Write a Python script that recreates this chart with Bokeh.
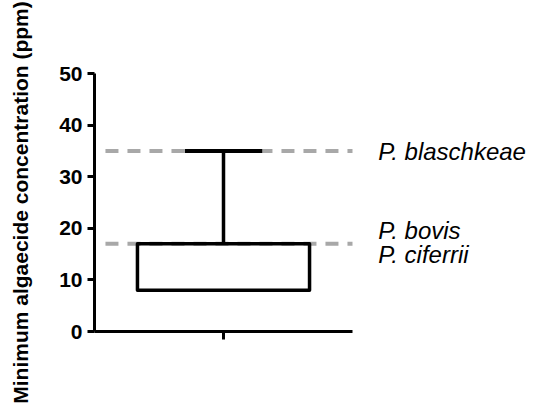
from bokeh.plotting import figure
from bokeh.models import Range1d, FixedTicker, ColumnDataSource
from bokeh.core.properties import value
from bokeh.embed import file_html
from bokeh.resources import INLINE

# ---- data ----
box_center = [1]
whisker_low = [8]
q1 = [8]
q3 = [17]
whisker_high = [35]
ref_values = [35, 17]
label_text = ["P. blaschkeae", "P. bovis", "P. ciferrii"]
label_y = [35, 17, 17]
y_ticks = [0, 10, 20, 30, 40, 50]
y_title = "Minimum algaecide concentration (ppm)"

# ---- layout ----
px_per_unit = 129.0
frame_w, frame_h = 448, 258
p = figure(frame_width=frame_w, frame_height=frame_h,
           min_border_left=94, min_border_right=0, min_border_top=73, min_border_bottom=72,
           x_range=Range1d(0, frame_w / px_per_unit), y_range=Range1d(0, 50),
           output_backend="svg", toolbar_location=None)
p.outline_line_color = None
p.grid.visible = False
p.background_fill_color = "white"

# y axis
ya = p.yaxis[0]
ya.ticker = FixedTicker(ticks=y_ticks)
ya.bounds = (0, 50)
ya.axis_line_width = 3
ya.major_tick_line_width = 3
ya.major_tick_out = 7
ya.major_tick_in = 0
ya.minor_tick_line_color = None
ya.major_label_standoff = 5
ya.major_label_text_font = "Liberation Sans"
ya.major_label_text_font_style = "bold"
ya.major_label_text_font_size = "21px"
ya.major_label_text_color = "black"
ya.axis_label = y_title
ya.axis_label_text_font = "Liberation Sans"
ya.axis_label_text_font_style = "bold"
ya.axis_label_text_font_size = "21px"
ya.axis_label_text_color = "black"
ya.axis_label_standoff = 24

# x axis
xa = p.xaxis[0]
xa.ticker = FixedTicker(ticks=box_center)
xa.bounds = (0, 2)
xa.axis_line_width = 3
xa.major_tick_line_width = 3
xa.major_tick_out = 8
xa.major_tick_in = 0
xa.minor_tick_line_color = None
xa.major_label_text_color = None

# reference dashed lines
for v in ref_values:
    p.line([0.085, 2.0], [v, v], line_color="#a8a8a8", line_width=4, line_dash="13 9")

# box
hw = 0.667
cw = 0.3
src = ColumnDataSource(dict(x=box_center, lo=whisker_low, q1=q1, q3=q3, hi=whisker_high))
p.quad(left=[c - hw for c in box_center], right=[c + hw for c in box_center],
       bottom=q1, top=q3, fill_color=None, line_color="black", line_width=3.5,
       line_join="round")
p.segment(x0="x", y0="q3", x1="x", y1="hi", source=src, line_color="black", line_width=3.5)
p.segment(x0=[c - cw for c in box_center], y0=whisker_high,
          x1=[c + cw for c in box_center], y1=whisker_high,
          line_color="black", line_width=4)
p.segment(x0="x", y0="lo", x1="x", y1="q1", source=src, line_color="black", line_width=3.5)

# labels
offsets = [1, -13, 11]
p.text(x=[2.2] * len(label_text), y=label_y, text=label_text, y_offset=offsets,
       text_font=value("Liberation Sans"), text_font_style="italic",
       text_font_size="24px", text_baseline="middle", text_color="black")

open("out.html", "w").write(file_html(p, INLINE))
